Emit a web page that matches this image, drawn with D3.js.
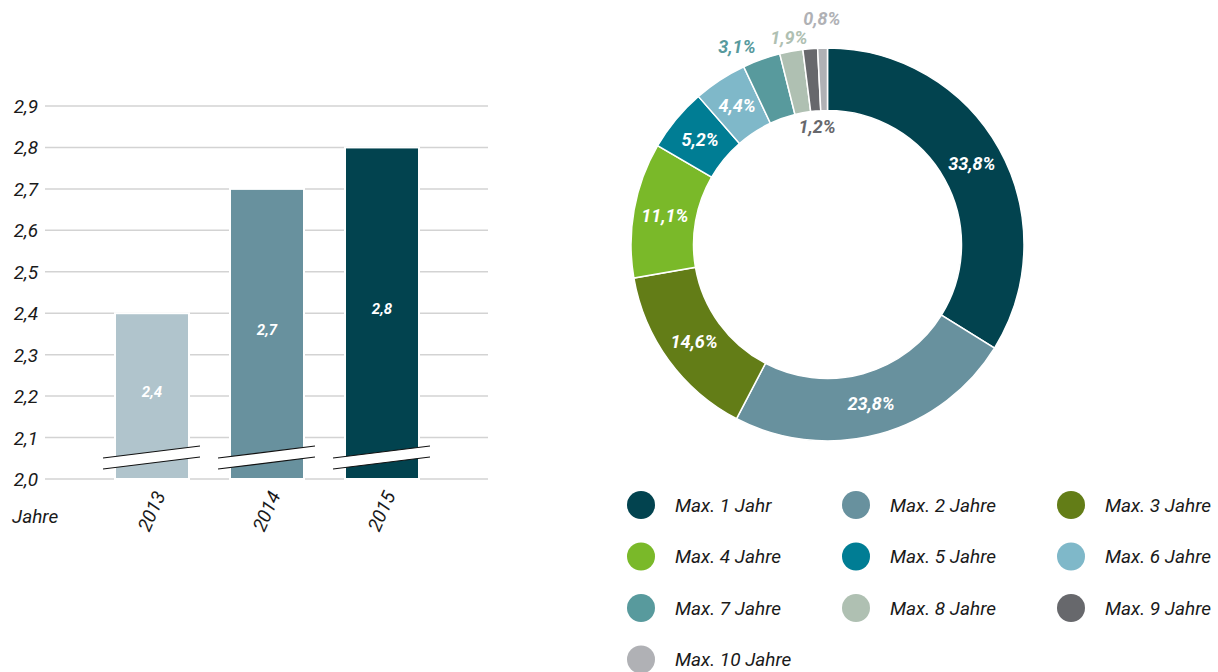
<!DOCTYPE html>
<html>
<head>
<meta charset="utf-8">
<script src="https://cdn.jsdelivr.net/npm/d3@7"></script>
<style>
  body { margin: 0; background: #fff; }
  svg { display: block; font-family: "Liberation Sans Narrow", "Roboto", sans-serif; font-style: italic; }
</style>
</head>
<body>
<svg width="1218" height="672"></svg>
<script>
// data
var years = ["2013", "2014", "2015"];
var yearValues = [2.4, 2.7, 2.8];
var yearColors = ["#b0c4cc", "#68919e", "#02434f"];
var yTicks = [2.0, 2.1, 2.2, 2.3, 2.4, 2.5, 2.6, 2.7, 2.8, 2.9];

var shareLabels = ["Max. 1 Jahr", "Max. 2 Jahre", "Max. 3 Jahre", "Max. 4 Jahre", "Max. 5 Jahre",
                   "Max. 6 Jahre", "Max. 7 Jahre", "Max. 8 Jahre", "Max. 9 Jahre", "Max. 10 Jahre"];
var shareValues = [33.8, 23.8, 14.6, 11.1, 5.2, 4.4, 3.1, 1.9, 1.2, 0.8];
var shareColors = ["#02434f", "#68919e", "#637d17", "#7ab929", "#007d94",
                   "#7fb8c9", "#589a9d", "#afc0b2", "#67686c", "#b0b1b5"];
// end of data

var svg = d3.select("svg");
var fmt = function(v) { return String(v).replace(".", ","); };
var fmt1 = function(v) { return v.toFixed(1).replace(".", ","); };

// bar chart
var x = d3.scaleBand().domain(years).range([115, 419]).paddingInner(0.3565).paddingOuter(0);
var y = d3.scaleLinear().domain([2.0, 2.9]).range([479, 106]);

var bars = svg.append("g");

bars.selectAll("line.grid")
  .data(yTicks)
  .enter().append("line")
    .attr("class", "grid")
    .attr("x1", 45).attr("x2", 488)
    .attr("y1", function(d) { return y(d); })
    .attr("y2", function(d) { return y(d); })
    .attr("stroke", "#d3d3d3")
    .attr("stroke-width", 1.5);

bars.selectAll("text.tick")
  .data(yTicks)
  .enter().append("text")
    .attr("class", "tick")
    .attr("x", 38)
    .attr("y", function(d) { return y(d) + 7; })
    .attr("text-anchor", "end")
    .attr("font-size", 19)
    .attr("fill", "#1a1a1a")
    .text(function(d) { return fmt1(d); });

bars.selectAll("rect")
  .data(years)
  .enter().append("rect")
    .attr("x", function(d) { return x(d); })
    .attr("width", x.bandwidth())
    .attr("y", function(d, i) { return y(yearValues[i]); })
    .attr("height", function(d, i) { return y(2.0) - y(yearValues[i]); })
    .attr("fill", function(d, i) { return yearColors[i]; })
    .attr("stroke", "#fff")
    .attr("stroke-width", 2);

// axis break marks
years.forEach(function(d) {
  var x0 = x(d) - 12, x1 = x(d) + x.bandwidth() + 11;
  var gb = bars.append("g");
  gb.append("polygon")
    .attr("points", [[x0, y(2.0) - 21], [x1, y(2.0) - 33], [x1, y(2.0) - 22], [x0, y(2.0) - 10]].join(" "))
    .attr("fill", "#fff");
  gb.append("line")
    .attr("x1", x0).attr("y1", y(2.0) - 21).attr("x2", x1).attr("y2", y(2.0) - 33)
    .attr("stroke", "#111").attr("stroke-width", 1.2);
  gb.append("line")
    .attr("x1", x0).attr("y1", y(2.0) - 10).attr("x2", x1).attr("y2", y(2.0) - 22)
    .attr("stroke", "#111").attr("stroke-width", 1.2);
});

bars.selectAll("text.val")
  .data(years)
  .enter().append("text")
    .attr("class", "val")
    .attr("x", function(d) { return x(d) + x.bandwidth() / 2; })
    .attr("y", function(d, i) { return (y(yearValues[i]) + y(2.0)) / 2 + 1; })
    .attr("text-anchor", "middle")
    .attr("font-size", 15)
    .attr("font-weight", "bold")
    .attr("fill", "#fff")
    .text(function(d, i) { return fmt(yearValues[i]); });

bars.selectAll("text.year")
  .data(years)
  .enter().append("text")
    .attr("class", "year")
    .attr("text-anchor", "end")
    .attr("font-size", 19)
    .attr("fill", "#1a1a1a")
    .attr("transform", function(d) {
      return "translate(" + (x(d) + x.bandwidth() / 2 + 14) + "," + 495 + ") rotate(-66)";
    })
    .text(function(d) { return d; });

bars.append("text")
  .attr("x", 12).attr("y", 523)
  .attr("font-size", 19)
  .attr("fill", "#1a1a1a")
  .text("Jahre");

// donut
var cx = 827.5, cy = 244.5, outerR = 196.5, innerR = 134;
var pie = d3.pie().sort(null).value(function(d) { return d; });
var arc = d3.arc().innerRadius(innerR).outerRadius(outerR);
var arcs = pie(shareValues);

var donut = svg.append("g").attr("transform", "translate(" + cx + "," + cy + ")");

donut.selectAll("path")
  .data(arcs)
  .enter().append("path")
    .attr("d", arc)
    .attr("fill", function(d, i) { return shareColors[i]; })
    .attr("stroke", "#fff")
    .attr("stroke-width", 1.5);

// small slices get their labels outside or in the hole
function labelPos(d, i) {
  var a = (d.startAngle + d.endAngle) / 2;
  if (d.value >= 4) return arc.centroid(d);
  var r = i === 8 ? 118 : i === 9 ? 226 : 210;
  var p = [Math.sin(a) * r, -Math.cos(a) * r];
  if (i === 6) p[0] -= 20;
  return p;
}

donut.selectAll("text")
  .data(arcs)
  .enter().append("text")
    .attr("transform", function(d, i) { return "translate(" + labelPos(d, i) + ")"; })
    .attr("dy", "0.35em")
    .attr("text-anchor", "middle")
    .attr("font-size", 18)
    .attr("font-weight", "bold")
    .attr("fill", function(d, i) { return d.value >= 4 ? "#fff" : shareColors[i]; })
    .text(function(d) { return fmt1(d.value) + "%"; });

// legend
var legend = svg.append("g");
var item = legend.selectAll("g")
  .data(shareLabels)
  .enter().append("g")
    .attr("transform", function(d, i) {
      return "translate(" + (641 + (i % 3) * 215) + "," + (505 + Math.floor(i / 3) * 51.5) + ")";
    });

item.append("circle")
  .attr("r", 14)
  .attr("fill", function(d, i) { return shareColors[i]; });

item.append("text")
  .attr("x", 34)
  .attr("dy", "0.35em")
  .attr("font-size", 19)
  .attr("fill", "#1a1a1a")
  .text(function(d) { return d; });
</script>
</body>
</html>
